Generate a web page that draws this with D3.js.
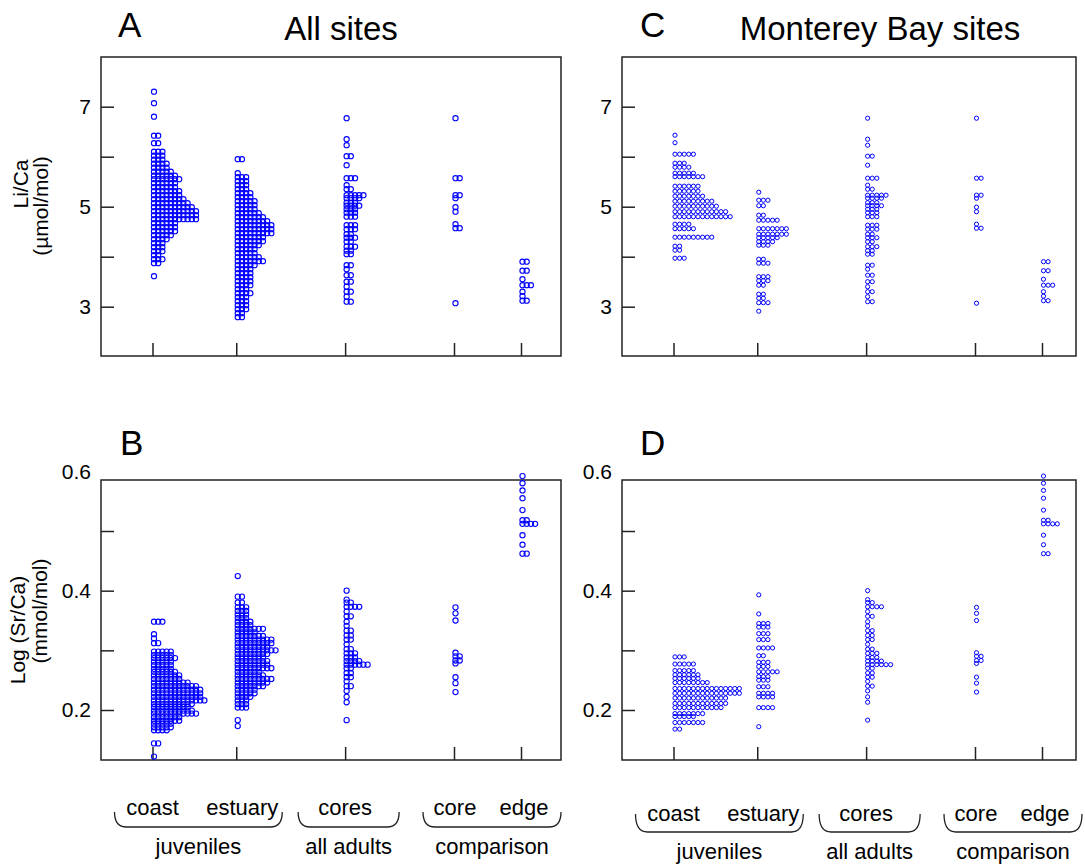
<!DOCTYPE html>
<html><head><meta charset="utf-8">
<script src="https://cdn.jsdelivr.net/npm/d3@7"></script>
<style>
body{margin:0;background:#fff}
text{font-family:Arial,'Liberation Sans',Helvetica,sans-serif;fill:#000}
</style>
</head><body>
<svg id="chart" width="1085" height="867"></svg>
<script>
// ---------------- data ----------------
const categories = ["coast", "estuary", "cores", "core", "edge"];
const categoryPos = [1, 2, 3.3, 4.6, 5.4];
const groupNames = ["juveniles", "all adults", "comparison"];
const groupMembers = [[0, 1], [2, 2], [3, 4]];
const liTicks = [3, 4, 5, 6, 7];
const liTickLabels = [3, 5, 7];
const srTicks = [0.2, 0.3, 0.4, 0.5];
const srTickLabels = [0.2, 0.4, 0.6];

// each entry: [value, number of fish with that value]
// Li/Ca, all sites, juveniles
const liAllCoast = [[7.30,1],[7.07,1],[6.80,1],[6.42,2],[6.27,2],[6.10,3],[6.02,3],[5.94,3],[5.86,4],[5.78,4],[5.70,5],[5.62,6],[5.55,7],[5.47,6],[5.39,6],[5.31,7],[5.23,7],[5.15,8],[5.07,9],[4.99,10],[4.91,11],[4.83,11],[4.75,11],[4.67,6],[4.59,6],[4.51,6],[4.43,5],[4.35,4],[4.27,3],[4.19,3],[4.11,3],[4.03,2],[3.95,3],[3.87,2],[3.61,1]];
const liAllEstuary = [[5.95,2],[5.67,1],[5.59,3],[5.51,3],[5.43,3],[5.35,3],[5.27,4],[5.19,4],[5.11,5],[5.03,5],[4.95,5],[4.87,6],[4.79,7],[4.71,8],[4.63,9],[4.55,9],[4.47,9],[4.39,7],[4.31,7],[4.23,6],[4.15,5],[4.07,5],[3.99,6],[3.91,7],[3.83,5],[3.75,4],[3.67,4],[3.59,4],[3.51,4],[3.43,4],[3.35,3],[3.27,4],[3.19,3],[3.11,3],[3.03,3],[2.95,3],[2.87,2],[2.79,2]];
// Li/Ca, Monterey Bay sites, juveniles
const liMBCoast = [[6.43,1],[6.28,1],[6.05,5],[5.87,3],[5.79,4],[5.67,5],[5.60,7],[5.41,6],[5.31,6],[5.21,7],[5.11,9],[5.01,10],[4.90,12],[4.80,13],[4.65,4],[4.56,5],[4.39,9],[4.21,2],[4.13,2],[3.97,3]];
const liMBEstuary = [[5.29,1],[5.13,3],[5.02,2],[4.83,2],[4.73,5],[4.56,7],[4.45,7],[4.38,5],[4.30,4],[4.23,3],[3.95,2],[3.87,3],[3.60,3],[3.52,3],[3.43,2],[3.25,2],[3.17,2],[3.08,3],[2.91,1]];
// Li/Ca, adults
const liCores = [[6.77,1],[6.35,1],[6.23,1],[6.01,2],[5.83,1],[5.57,3],[5.43,1],[5.35,2],[5.23,5],[5.17,4],[5.08,3],[5.02,4],[4.95,3],[4.88,3],[4.80,3],[4.63,3],[4.55,3],[4.45,2],[4.38,3],[4.30,2],[4.20,3],[4.12,2],[4.05,2],[3.83,2],[3.75,1],[3.63,2],[3.50,2],[3.40,1],[3.30,2],[3.20,1],[3.10,2]];
const liCore = [[6.77,1],[5.57,2],[5.23,2],[5.17,1],[4.99,1],[4.90,1],[4.65,1],[4.57,2],[3.07,1]];
const liEdge = [[3.90,2],[3.72,2],[3.55,1],[3.43,3],[3.30,1],[3.21,1],[3.12,2]];

// Log(Sr/Ca), all sites, juveniles
const srAllCoast = [[0.348,3],[0.327,1],[0.320,1],[0.312,2],[0.298,5],[0.292,5],[0.287,6],[0.281,5],[0.275,5],[0.269,5],[0.264,6],[0.258,7],[0.252,7],[0.246,9],[0.240,11],[0.234,12],[0.228,12],[0.222,12],[0.216,13],[0.210,10],[0.205,9],[0.199,10],[0.194,11],[0.188,7],[0.182,7],[0.177,5],[0.171,5],[0.166,4],[0.144,2],[0.122,1]];
const srAllEstuary = [[0.4245,1],[0.390,2],[0.380,2],[0.372,3],[0.366,3],[0.360,3],[0.354,3],[0.348,4],[0.342,4],[0.336,7],[0.330,5],[0.324,7],[0.318,9],[0.312,9],[0.306,8],[0.300,10],[0.294,8],[0.288,7],[0.282,8],[0.276,8],[0.270,9],[0.264,6],[0.258,7],[0.252,9],[0.246,8],[0.240,7],[0.234,5],[0.228,5],[0.222,4],[0.216,3],[0.210,3],[0.204,3],[0.183,1],[0.173,1]];
// Log(Sr/Ca), Monterey Bay sites, juveniles
const srMBCoast = [[0.289,3],[0.277,5],[0.266,5],[0.259,6],[0.253,6],[0.246,8],[0.236,15],[0.228,15],[0.220,12],[0.211,12],[0.204,11],[0.194,7],[0.189,5],[0.179,7],[0.168,2]];
const srMBEstuary = [[0.393,1],[0.361,1],[0.345,3],[0.339,3],[0.328,3],[0.318,3],[0.304,4],[0.291,2],[0.280,3],[0.273,3],[0.264,5],[0.256,3],[0.250,3],[0.239,3],[0.228,4],[0.222,4],[0.204,4],[0.172,1]];
// Log(Sr/Ca), adults
const srCores = [[0.400,1],[0.385,1],[0.380,2],[0.373,4],[0.365,1],[0.357,2],[0.348,1],[0.341,1],[0.333,2],[0.325,2],[0.318,2],[0.310,1],[0.302,2],[0.295,3],[0.288,3],[0.282,4],[0.276,6],[0.270,2],[0.262,2],[0.255,2],[0.248,1],[0.240,2],[0.232,1],[0.222,1],[0.213,1],[0.183,1]];
const srCore = [[0.372,1],[0.362,1],[0.350,1],[0.296,1],[0.290,2],[0.283,2],[0.278,1],[0.255,1],[0.245,1],[0.230,1]];
const srEdge = [[0.592,1],[0.580,1],[0.568,1],[0.555,1],[0.535,1],[0.518,2],[0.512,4],[0.493,1],[0.477,1],[0.462,2]];

// ---------------- layout ----------------
const svg = d3.select("#chart");
const FONT_TICK = 21, FONT_LABEL = 22;
const labelShift = [0, 6, 0, 1, 3];
const bracePad = [[-38, 46], [-47, 54], [-31, 40]];

const panels = [
  {kind:"li", left:101, right:561, top:57, bottom:356, r:2.6, dx:4.2, sw:1.1,
   data:[liAllCoast, liAllEstuary, liCores, liCore, liEdge],
   letter:"A", letterX:118, letterY:37, title:"All sites", titleX:341,
   yLabel:["Li/Ca","(µmol/mol)"], yLabelPos:[[28,184],[48,206]]},
  {kind:"sr", left:101, right:561, top:480, bottom:760, r:2.6, dx:4.2, sw:1.1,
   data:[srAllCoast, srAllEstuary, srCores, srCore, srEdge],
   letter:"B", letterX:120, letterY:455,
   yLabel:["Log (Sr/Ca)","(mmol/mol)"], yLabelPos:[[25,630],[47,611]],
   bottom_labels:{cat:815, group:854, braceTop:812, braceBottom:827}},
  {kind:"li", left:622, right:1076, top:57, bottom:356, r:2.1, dx:4.6, sw:1,
   data:[liMBCoast, liMBEstuary, liCores, liCore, liEdge],
   letter:"C", letterX:640, letterY:37, title:"Monterey Bay sites", titleX:880},
  {kind:"sr", left:622, right:1076, top:480, bottom:760, r:2.1, dx:4.6, sw:1,
   data:[srMBCoast, srMBEstuary, srCores, srCore, srEdge],
   letter:"D", letterX:640, letterY:455,
   bottom_labels:{cat:821, group:859, braceTop:814, braceBottom:832}}
];

panels.forEach(p => {
  const g = svg.append("g");
  const x = d3.scaleLinear().domain([1, 5.4]).range([p.left + 51.5, p.left + 51.5 + 368.5]);
  let y, ticks, tickLabels, fmt;
  if (p.kind === "li") {
    y = d3.scaleLinear().domain([3, 7]).range([p.top + 249.7, p.top + 49.7]);
    ticks = liTicks; tickLabels = liTickLabels; fmt = d3.format("d");
  } else {
    y = d3.scaleLinear().domain([0.2, 0.5]).range([p.top + 230, p.top + 51]);
    ticks = srTicks; tickLabels = srTickLabels; fmt = d3.format(".1f");
  }

  // frame
  g.append("rect").attr("x", p.left).attr("y", p.top)
    .attr("width", p.right - p.left).attr("height", p.bottom - p.top)
    .attr("fill", "none").attr("stroke", "#222").attr("stroke-width", 1.5);

  // left ticks (inward)
  const yAxis = d3.axisLeft(y).tickValues(ticks).tickSize(-13).tickFormat("");
  const ga = g.append("g").attr("transform", `translate(${p.left},0)`).call(yAxis);
  ga.select(".domain").remove();
  ga.selectAll("line").attr("stroke", "#222").attr("stroke-width", 1.5);

  // tick labels
  g.selectAll(".tl").data(tickLabels).join("text")
    .attr("x", p.left - 10).attr("y", d => y(d))
    .attr("dy", "0.35em").attr("text-anchor", "end")
    .style("font-size", FONT_TICK + "px").text(d => fmt(d));

  // bottom ticks (inward)
  const xAxis = d3.axisBottom(x).tickValues(categoryPos).tickSize(-13).tickFormat("");
  const gx = g.append("g").attr("transform", `translate(0,${p.bottom})`).call(xAxis);
  gx.select(".domain").remove();
  gx.selectAll("line").attr("stroke", "#222").attr("stroke-width", 1.5);

  // dots
  const pts = [];
  p.data.forEach((arr, ci) => {
    arr.forEach(([v, n]) => {
      for (let i = 0; i < n; i++) pts.push({ci, v, i});
    });
  });
  g.append("g").selectAll("circle").data(pts).join("circle")
    .attr("cx", d => x(categoryPos[d.ci]) + 1.5 + d.i * p.dx)
    .attr("cy", d => y(d.v))
    .attr("r", p.r)
    .attr("fill", "none")
    .attr("stroke", "#0000ff")
    .attr("stroke-width", p.sw);

  // letter + title
  svg.append("text").attr("x", p.letterX).attr("y", p.letterY)
    .style("font-size", "35px").text(p.letter);
  if (p.title) {
    svg.append("text").attr("x", p.titleX).attr("y", 40).attr("text-anchor", "middle")
      .style("font-size", "33px").text(p.title);
  }
  if (p.yLabel) {
    p.yLabel.forEach((t, k) => {
      svg.append("text")
        .attr("transform", `translate(${p.yLabelPos[k][0]},${p.yLabelPos[k][1]}) rotate(-90)`)
        .attr("text-anchor", "middle").style("font-size", FONT_TICK + "px").text(t);
    });
  }

  // bottom category labels with braces
  if (p.bottom_labels) {
    const b = p.bottom_labels;
    categories.forEach((c, ci) => {
      svg.append("text").attr("x", x(categoryPos[ci]) + labelShift[ci]).attr("y", b.cat)
        .attr("text-anchor", "middle").style("font-size", FONT_LABEL + "px").text(c);
    });
    groupNames.forEach((gname, gi) => {
      const x1 = x(categoryPos[groupMembers[gi][0]]) + bracePad[gi][0];
      const x2 = x(categoryPos[groupMembers[gi][1]]) + bracePad[gi][1];
      const path = d3.path();
      path.moveTo(x1, b.braceTop);
      path.quadraticCurveTo(x1, b.braceBottom, x1 + 12, b.braceBottom);
      path.lineTo(x2 - 12, b.braceBottom);
      path.quadraticCurveTo(x2, b.braceBottom, x2, b.braceTop);
      svg.append("path").attr("d", path.toString()).attr("fill", "none")
        .attr("stroke", "#222").attr("stroke-width", 1.3);
      svg.append("text").attr("x", (x1 + x2) / 2).attr("y", b.group)
        .attr("text-anchor", "middle").style("font-size", FONT_LABEL + "px").text(gname);
    });
  }
});
</script>
</body></html>
